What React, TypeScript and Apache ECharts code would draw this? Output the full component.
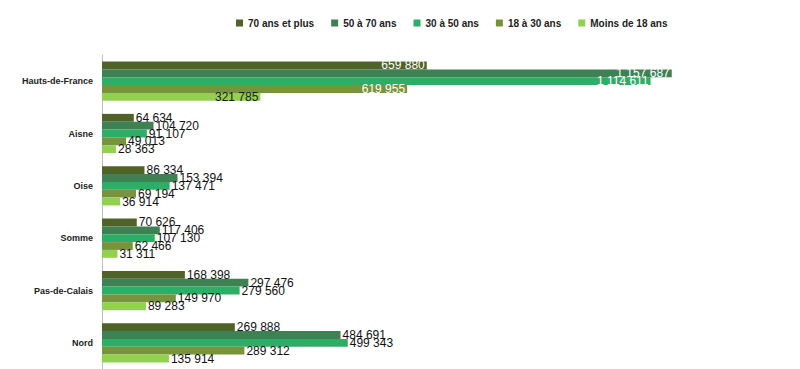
import React, { useEffect, useRef } from "react";
import * as echarts from "echarts";

const categories = ["Hauts-de-France", "Aisne", "Oise", "Somme", "Pas-de-Calais", "Nord"];
const seriesNames = ["70 ans et plus", "50 à 70 ans", "30 à 50 ans", "18 à 30 ans", "Moins de 18 ans"];
const age70plus = [659880, 64634, 86334, 70626, 168398, 269888];
const age50to70 = [1157687, 104720, 153394, 117406, 297476, 484691];
const age30to50 = [1114611, 91107, 137471, 107130, 279560, 499343];
const age18to30 = [619955, 49013, 69194, 62466, 149970, 289312];
const ageUnder18 = [321785, 28363, 36914, 31311, 89283, 135914];

const seriesValues = [age70plus, age50to70, age30to50, age18to30, ageUnder18];
const colors = ["#4F6228", "#3E8254", "#2DAE66", "#77933C", "#92D050"];
const insideColors = ["#ffffff", "#ffffff", "#ffffff", "#ffffff", "#1a1a1a"];

const fmt = (n: number) => String(n).replace(/\B(?=(\d{3})+(?!\d))/g, " ");

export default function App() {
  const ref = useRef<HTMLDivElement>(null);
  useEffect(() => {
    if (!ref.current) return;
    document.body.style.margin = "0";
    const chart = echarts.init(ref.current, undefined, { renderer: "svg" });
    chart.setOption({
      animation: false,
      legend: {
        top: 13,
        left: 231,
        icon: "rect",
        itemWidth: 7,
        itemHeight: 7,
        itemGap: 17,
        textStyle: {
          fontFamily: "Liberation Sans",
          fontWeight: "bold",
          fontSize: 10,
          color: "#222",
        },
        data: seriesNames,
      },
      grid: { left: 102, right: 9, top: 55, bottom: -1, containLabel: false },
      xAxis: {
        type: "value",
        min: 0,
        max: 1400000,
        show: false,
      },
      yAxis: {
        type: "category",
        inverse: true,
        data: categories,
        axisLine: { show: true, lineStyle: { color: "#bfbfbf", width: 1 } },
        axisTick: { show: false },
        axisLabel: {
          margin: 9,
          fontFamily: "Liberation Sans",
          fontWeight: "bold",
          fontSize: 9,
          color: "#222",
        },
      },
      series: seriesNames.map((name, si) => ({
        name,
        type: "bar",
        barGap: "0%",
        barCategoryGap: "25%",
        itemStyle: { color: colors[si] },
        label: {
          show: true,
          position: "right",
          distance: 2,
          fontFamily: "Liberation Sans",
          fontSize: 12,
          color: "#111",
          formatter: (p: any) => fmt(p.value),
        },
        data: seriesValues[si].map((v, ci) =>
          ci === 0
            ? {
                value: v,
                label: { position: "insideRight", distance: 2, color: insideColors[si] },
              }
            : v
        ),
      })),
    });
    return () => chart.dispose();
  }, []);
  return <div ref={ref} style={{ width: 800, height: 369 }} />;
}
